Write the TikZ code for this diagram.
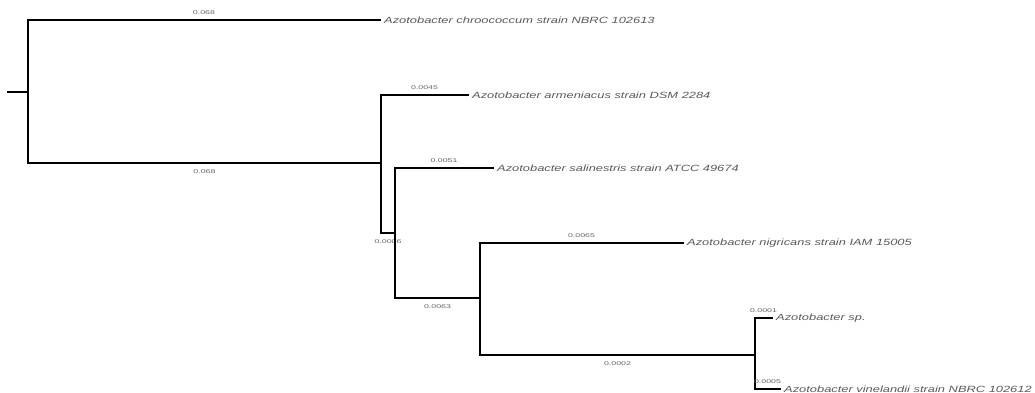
\documentclass[tikz,border=0pt]{standalone}
\usepackage{fontspec}
\setmainfont{Liberation Sans}
\begin{document}
\begin{tikzpicture}[x=1pt,y=-1pt,
  br/.style={line width=1.6pt, black, line cap=rect},
  leaf/.style={anchor=west, inner sep=0pt, xshift=4pt, font=\fontsize{9}{10}\selectfont\itshape, text=black!65},
  bl/.style={font=\fontsize{5.5}{6}\selectfont, text=black!60, inner sep=0pt}]
\useasboundingbox (0,0) rectangle (1035,393);
\clip (0,0) rectangle (1035,393);
% internal nodes
\coordinate (r0) at (8,92);
\coordinate (r) at (28,92);
\coordinate (n1) at (381,163);
\coordinate (n2) at (395,233);
\coordinate (n3) at (480,298);
\coordinate (n4) at (755,355);
% branch ends
\coordinate (e1) at (380,20);
\coordinate (e2) at (468,95);
\coordinate (e3) at (493,168);
\coordinate (e4) at (683,243);
\coordinate (e5) at (772,318);
\coordinate (e6) at (780,389);
% leaves
\node[leaf] (l1) at (e1) {\scalebox{1.43}[1]{Azotobacter chroococcum strain NBRC 102613}};
\node[leaf] (l2) at (e2) {\scalebox{1.43}[1]{Azotobacter armeniacus strain DSM 2284}};
\node[leaf] (l3) at (e3) {\scalebox{1.43}[1]{Azotobacter salinestris strain ATCC 49674}};
\node[leaf] (l4) at (e4) {\scalebox{1.43}[1]{Azotobacter nigricans strain IAM 15005}};
\node[leaf] (l5) at (e5) {\scalebox{1.43}[1]{Azotobacter sp.}};
\node[leaf] (l6) at (e6) {\scalebox{1.43}[1]{Azotobacter vinelandii strain NBRC 102612}};
% branches
\draw[br] (r0) -- (r);
\draw[br] (r) |- (e1) node[bl, pos=0.75, above=5pt] {\scalebox{1.6}[1]{0.068}};
\draw[br] (r) |- (n1) node[bl, pos=0.75, below=6pt] {\scalebox{1.6}[1]{0.068}};
\draw[br] (n1) |- (e2) node[bl, pos=0.75, above=5pt] {\scalebox{1.6}[1]{0.0045}};
\draw[br] (n1) |- (n2) node[bl, pos=0.75, below=6pt] {\scalebox{1.6}[1]{0.0006}};
\draw[br] (n2) |- (e3) node[bl, pos=0.75, above=5pt] {\scalebox{1.6}[1]{0.0051}};
\draw[br] (n2) |- (n3) node[bl, pos=0.75, below=6pt] {\scalebox{1.6}[1]{0.0063}};
\draw[br] (n3) |- (e4) node[bl, pos=0.75, above=5pt] {\scalebox{1.6}[1]{0.0065}};
\draw[br] (n3) |- (n4) node[bl, pos=0.75, below=6pt] {\scalebox{1.6}[1]{0.0002}};
\draw[br] (n4) |- (e5) node[bl, pos=0.75, above=5pt] {\scalebox{1.6}[1]{0.0001}};
\draw[br] (n4) |- (e6) node[bl, pos=0.75, above=5pt] {\scalebox{1.6}[1]{0.0005}};
\end{tikzpicture}
\end{document}
